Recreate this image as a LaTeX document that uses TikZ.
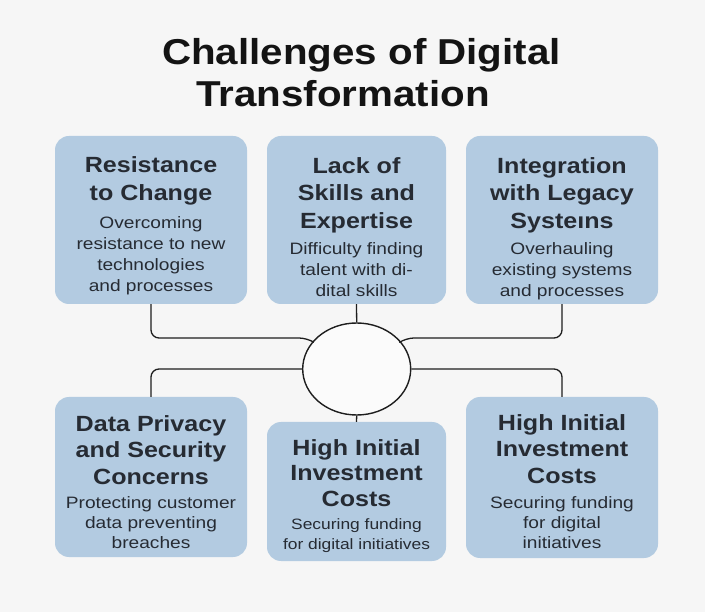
\documentclass[tikz,border=0pt]{standalone}
\usepackage{fontspec}
\setmainfont{Liberation Sans}
\newfontfamily\titlefont{Liberation Sans}[FakeStretch=1.12]
\newfontfamily\headfont{Liberation Sans}[FakeStretch=1.14]
\newfontfamily\bodyfont{Liberation Sans}[FakeStretch=1.16]
\usetikzlibrary{shapes.geometric}
\definecolor{bgcol}{HTML}{F6F6F6}
\definecolor{boxcol}{HTML}{B3CBE1}
\definecolor{inkcol}{HTML}{262B33}
\definecolor{linecol}{HTML}{1E1E1E}
% fixed first-line heights so that north anchors sit a known distance above the baseline
\newcommand{\hstrut}{\rule{0pt}{16.5pt}}
\newcommand{\bstrut}{\rule{0pt}{12.3pt}}
\begin{document}
\begin{tikzpicture}[x=1pt,y=-1pt,
  panel/.style={fill=boxcol, draw=none, rounded corners=14pt, inner sep=0pt},
  ttl/.style={font=\titlefont\bfseries\fontsize{36}{40}\selectfont, text=black!92, inner sep=0pt, anchor=base},
  head/.style={font=\headfont\bfseries\fontsize{22}{#1}\selectfont, text=inkcol, align=center, anchor=north, inner sep=0pt},
  head/.default=27.5,
  body/.style={font=\bodyfont\fontsize{16.5}{#1}\selectfont, text=inkcol, align=center, anchor=north, inner sep=0pt},
  body/.default=21,
  hub/.style={ellipse, draw=linecol, line width=1.4pt, fill=white!60!bgcol, minimum width=108pt, minimum height=92pt, inner sep=0pt},
  conn/.style={draw=linecol, line width=1.3pt, rounded corners=8pt}]

\useasboundingbox (0,0) rectangle (705,612);
\fill[bgcol] (0,0) rectangle (705,612);

% title
\node[ttl] (title1) at (361.5,65) {Challenges of Digital};
\node[ttl] (title2) at (343,107) {Transformation};

% panels
\node[panel, minimum width=192pt, minimum height=168pt] (b1) at (151,220) {};
\node[panel, minimum width=179pt, minimum height=168pt] (b2) at (356.5,220) {};
\node[panel, minimum width=192pt, minimum height=168pt] (b3) at (562,220) {};
\node[panel, minimum width=192pt, minimum height=160pt] (b4) at (151,477) {};
\node[panel, minimum width=179pt, minimum height=139pt] (b5) at (356.5,491.5) {};
\node[panel, minimum width=192pt, minimum height=161pt] (b6) at (562,477.5) {};

% central hub
\node[hub] (c) at (356.7,369) {};

% panel texts
\node[head] (h1) at (151,156.2) {\hstrut Resistance\\to Change};
\node[body] (d1) at (151,215.7) {\bstrut Overcoming\\resistance to new\\technologies\\and processes};

\node[head] (h2) at (356.5,156.5) {\hstrut Lack of\\Skills and\\Expertise};
\node[body] (d2) at (356.5,241.7) {\bstrut Difficulty finding\\talent with di-\\dital skills};

\node[head] (h3) at (562,156.5) {\hstrut Integration\\with Legacy\\Systeıns};
\node[body] (d3) at (562,241.7) {\bstrut Overhauling\\existing systems\\and processes};

\node[head=26.5] (h4) at (151,414.5) {\hstrut Data Privacy\\and Security\\Concerns};
\node[body=20] (d4) at (151,495.7) {\bstrut Protecting customer\\data preventing\\breaches};

\node[head=25.5] (h5) at (356.5,438.5) {\hstrut High Initial\\Investment\\Costs};
\node[body=19.5, font=\bodyfont\fontsize{15}{19.5}\selectfont] (d5) at (356.5,517) {\bstrut Securing funding\\for digital initiatives};

\node[head=26.5] (h6) at (562,413.5) {\hstrut High Initial\\Investment\\Costs};
\node[body=20] (d6) at (562,495.7) {\bstrut Securing funding\\for digital\\initiatives};

% connectors
\draw[conn] (b1.south) -- (b1.south |- 0,338) -- (307,338) -- (c.148);
\draw[conn] (b3.south) -- (b3.south |- 0,338) -- (406,338) -- (c.32);
\draw[conn] (b2.south) -- (c.north);
\draw[conn] (c.west) -| (b4.north);
\draw[conn] (c.east) -| (b6.north);
\draw[conn] (c.south) -- (b5.north);
\end{tikzpicture}
\end{document}
